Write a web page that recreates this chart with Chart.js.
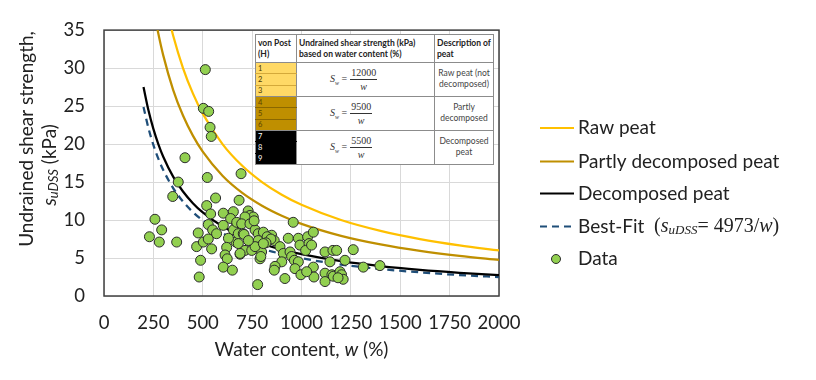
<!DOCTYPE html>
<html>
<head>
<meta charset="utf-8">
<script src="https://cdn.jsdelivr.net/npm/chart.js@4.4.1/dist/chart.umd.min.js"></script>
<style>
  html, body { margin:0; padding:0; background:#fff; }
  #wrap { position:relative; width:816px; height:380px; }
  #peatTable { position:absolute; left:255px; top:34px; width:238px; height:130px;
               border-collapse:collapse; table-layout:fixed; background:#fff;
               font-family:Lato, sans-serif; font-size:8px; color:#222; }
  #peatTable th, #peatTable td { border:1px solid #8c8c8c; padding:0; overflow:hidden; }
  #peatTable th { text-align:left; vertical-align:middle; font-weight:bold; line-height:11px; padding-left:2px; font-size:8.5px; }
  #peatTable tr.hd { height:28px; }
  #peatTable tr.sub { height:11.33px; }
  #peatTable td.vp { font-size:7.5px; line-height:9px; padding-left:2px; }
  #peatTable td.eq { font-family:"Liberation Serif", serif; font-size:10px; padding-left:33px; color:#333; }
  #peatTable td.ds { text-align:center; color:#444; font-size:8.5px; line-height:11px; }
  .frac { display:inline-flex; flex-direction:column; align-items:center; vertical-align:middle; margin-left:3px; }
  .frac span:first-child { border-bottom:1px solid #333; padding:0 1px 1px 1px; }
  .frac span:last-child { font-style:italic; padding-top:1px; }
</style>
</head>
<body>
<div id="wrap">
  <canvas id="cnv" width="816" height="380"></canvas>
  <table id="peatTable"></table>
</div>
<script>
"use strict";

// curves shown in the chart (water content w in %, strength in kPa)
const rawPeatW   = [325, 350, 400, 450, 500, 600, 700, 800, 900, 1000, 1200, 1400, 1600, 1800, 2000];
const rawPeatS   = [36.92, 34.29, 30.00, 26.67, 24.00, 20.00, 17.14, 15.00, 13.33, 12.00, 10.00, 8.57, 7.50, 6.67, 6.00];

const partlyW    = [260, 275, 300, 350, 400, 450, 500, 600, 700, 800, 900, 1000, 1200, 1400, 1600, 1800, 2000];
const partlyS    = [36.54, 34.55, 31.67, 27.14, 23.75, 21.11, 19.00, 15.83, 13.57, 11.88, 10.56, 9.50, 7.92, 6.79, 5.94, 5.28, 4.75];

const decompW    = [200, 225, 250, 275, 300, 350, 400, 450, 500, 600, 700, 800, 900, 1000, 1200, 1400, 1600, 1800, 2000];
const decompS    = [27.50, 24.44, 22.00, 20.00, 18.33, 15.71, 13.75, 12.22, 11.00, 9.17, 7.86, 6.88, 6.11, 5.50, 4.58, 3.93, 3.44, 3.06, 2.75];
const bestFitS   = [24.87, 22.10, 19.89, 18.08, 16.58, 14.21, 12.43, 11.05, 9.95, 8.29, 7.10, 6.22, 5.53, 4.97, 4.14, 3.55, 3.11, 2.76, 2.49];

// measured points
const sampleW = [513, 503, 530, 537, 543, 410, 523, 694, 376, 348, 565, 684, 520, 258, 292, 230, 280, 368,
                 540, 604, 655, 641, 528, 550, 570, 604, 477, 672, 655, 668, 630, 469, 503, 528, 545, 621,
                 613, 624, 604, 650, 489, 482, 689, 680, 705, 680, 714, 689, 709, 730, 739, 756, 714, 672,
                 697, 739, 765, 781, 807, 849, 862, 781, 790, 798, 790, 748, 958, 891, 908, 942, 950, 933,
                 984, 992, 1031, 1038, 1060, 1021, 1051, 900, 964, 984, 967, 866, 862, 916, 997, 1060, 1063,
                 1026, 1119, 1144, 1159, 1119, 1119, 1154, 778, 826, 845, 1178, 1262, 1220, 1313, 1397, 1161,
                 1195, 1203, 1211, 1185, 765, 731, 794, 760, 820, 807];
const sampleS = [29.8, 24.7, 24.3, 22.2, 21.0, 18.2, 15.6, 16.1, 15.0, 13.1, 12.9, 12.6, 11.9, 10.1, 8.7, 7.8, 7.1, 7.1,
                 10.8, 10.9, 11.1, 10.2, 9.4, 8.7, 8.2, 9.3, 8.3, 9.5, 8.7, 7.1, 7.6, 6.5, 7.1, 7.5, 6.2, 6.4,
                 5.4, 4.9, 3.8, 3.4, 4.7, 2.5, 5.5, 8.2, 8.2, 6.9, 6.0, 5.6, 8.1, 11.2, 10.6, 10.4, 10.4, 9.7,
                 9.5, 9.5, 8.7, 8.2, 8.4, 8.0, 7.3, 7.3, 6.5, 5.8, 4.9, 6.0, 9.7, 6.5, 5.6, 5.8, 5.2, 7.6,
                 7.6, 6.7, 7.8, 6.9, 8.4, 6.0, 6.7, 4.5, 4.7, 4.5, 3.6, 3.9, 3.4, 2.3, 2.8, 3.8, 2.5,
                 3.2, 5.8, 4.5, 6.0, 3.0, 1.9, 2.8, 1.5, 7.8, 7.5, 6.0, 6.1, 4.7, 3.8, 4.0, 2.6,
                 3.2, 2.8, 2.2, 2.4, 6.5, 7.3, 5.2, 9.9, 7.0, 6.9];

const xTicksStep = 250;
const yTicksStep = 5;

// inset table content
const vonPostGroups  = [[1, 2, 3], [4, 5, 6], [7, 8, 9]];
const groupColors    = ["#FFD966", "#BF8F00", "#000000"];
const groupNumColors = ["#4a3a00", "#5c4400", "#ffffff"];
const groupLines     = ["#d4a93a", "#8a6700", "#000000"];
const coefficients   = [12000, 9500, 5500];
const descriptions   = ["Raw peat (not<br>decomposed)", "Partly<br>decomposed", "Decomposed<br>peat"];


function pairs(xs, ys)
 {
   return xs.map((x, i) => ({ x: x, y: ys[i] }));
 }

function buildTable()
 {
   let html = '<colgroup><col style="width:41px"><col style="width:138px"><col style="width:59px"></colgroup>'
            + '<tr class="hd"><th>von Post<br>(H)</th><th>Undrained shear strength (kPa)<br>based on water content (%)</th><th>Description of<br>peat</th></tr>';
   vonPostGroups.forEach((g, gi) => {
      g.forEach((n, k) => {
         let bt = k == 0 ? '1px solid #8c8c8c' : '1px solid ' + groupLines[gi];
         let bb = k == 2 ? '1px solid #8c8c8c' : '1px solid ' + groupLines[gi];
         html += '<tr class="sub"><td class="vp" style="background:' + groupColors[gi] + ';color:' + groupNumColors[gi]
               + ';border-top:' + bt + ';border-bottom:' + bb + '">' + n + '</td>';
         if (k == 0)
          html += '<td class="eq" rowspan="3"><i>S</i><sub style="font-size:6px;font-style:italic">w</sub> ='
                + '<span class="frac"><span>' + coefficients[gi] + '</span><span>w</span></span></td>'
                + '<td class="ds" rowspan="3">' + descriptions[gi] + '</td>';
         html += '</tr>';
      });
   });
   document.getElementById('peatTable').innerHTML = html;
 }

// draws a row of text pieces with different fonts, centred or left aligned
function drawRich(ctx, parts, x, y, align)
 {
   let total = 0;
   parts.forEach(p => { ctx.font = p.font; p.w = ctx.measureText(p.text).width; total += p.w; });
   let cx = align == 'center' ? x - total / 2 : x;
   ctx.textAlign = 'left';
   ctx.textBaseline = 'middle';
   parts.forEach(p => { ctx.font = p.font; ctx.fillText(p.text, cx, y + (p.dy || 0)); cx += p.w; });
 }

const TXT = '#222';
const SANS = '19px Lato';
const SANS_I = 'italic 19px Lato';

// border around the plot area
const frame = {
  id: 'frame',
  beforeDatasetsDraw(chart) {
     const a = chart.chartArea, ctx = chart.ctx;
     ctx.save();
     ctx.strokeStyle = '#404040';
     ctx.lineWidth = 1.5;
     ctx.strokeRect(a.left, a.top, a.right - a.left, a.bottom - a.top);
     ctx.restore();
  }
};

// axis titles and legend (with italics and subscripts)
const annotate = {
  id: 'annotate',
  afterDraw(chart) {
     const ctx = chart.ctx, a = chart.chartArea;
     ctx.save();
     ctx.fillStyle = TXT;

     drawRich(ctx, [{ text: 'Water content, ', font: SANS }, { text: 'w', font: SANS_I }, { text: ' (%)', font: SANS }],
              (a.left + a.right) / 2, 350, 'center');

     ctx.save();
     ctx.translate(27, 139);
     ctx.rotate(-Math.PI / 2);
     drawRich(ctx, [{ text: 'Undrained shear strength,', font: SANS }], 0, 0, 'center');
     ctx.restore();
     ctx.save();
     ctx.translate(50, 165);
     ctx.rotate(-Math.PI / 2);
     drawRich(ctx, [{ text: 's', font: SANS_I }, { text: 'uDSS', font: 'italic 13px Lato', dy: 4 }, { text: ' (kPa)', font: SANS }], 0, 0, 'center');
     ctx.restore();

     // legend
     const ds = chart.data.datasets;
     const rowY = [128, 161.5, 193.5, 226.5, 259];
     ds.forEach((d, i) => {
        let y = rowY[i];
        ctx.fillStyle = TXT;
        if (d.showLine)
         {
           ctx.save();
           ctx.strokeStyle = d.borderColor;
           ctx.lineWidth = 2;
           ctx.setLineDash(d.borderDash || []);
           ctx.beginPath();
           ctx.moveTo(540, y);
           ctx.lineTo(574, y);
           ctx.stroke();
           ctx.restore();
         }
        else
         {
           ctx.save();
           ctx.fillStyle = d.backgroundColor;
           ctx.strokeStyle = d.borderColor;
           ctx.lineWidth = 1;
           ctx.beginPath();
           ctx.arc(556, y, 4.5, 0, Math.PI * 2);
           ctx.fill();
           ctx.stroke();
           ctx.restore();
         }
        if (d.legendParts)
         drawRich(ctx, d.legendParts, 578, y, 'left');
        else
         drawRich(ctx, [{ text: d.label, font: SANS }], 578, y, 'left');
     });
     ctx.restore();
  }
};

buildTable();

const SERIF = '20px "Liberation Serif"';
const SERIF_I = 'italic 20px "Liberation Serif"';

new Chart(document.getElementById('cnv'), {
   type: 'scatter',
   data: {
      datasets: [
         { label: 'Raw peat', data: pairs(rawPeatW, rawPeatS), showLine: true, borderColor: '#FFC000', borderWidth: 2.25,
           pointRadius: 0, cubicInterpolationMode: 'monotone', order: 1 },
         { label: 'Partly decomposed peat', data: pairs(partlyW, partlyS), showLine: true, borderColor: '#BF8F00', borderWidth: 2.25,
           pointRadius: 0, cubicInterpolationMode: 'monotone', order: 1 },
         { label: 'Decomposed peat', data: pairs(decompW, decompS), showLine: true, borderColor: '#000000', borderWidth: 2.25,
           pointRadius: 0, cubicInterpolationMode: 'monotone', order: 1 },
         { label: 'Best-Fit (sDSS = 4973/w)', data: pairs(decompW, bestFitS), showLine: true, borderColor: '#1F4E79', borderWidth: 2.25,
           borderDash: [7, 5], pointRadius: 0, cubicInterpolationMode: 'monotone', order: 1,
           legendParts: [ { text: 'Best-Fit  ', font: SANS }, { text: '(', font: SERIF }, { text: 's', font: SERIF_I },
                          { text: 'uDSS', font: 'italic 13px "Liberation Serif"', dy: 4 }, { text: '= 4973/', font: SERIF },
                          { text: 'w', font: SERIF_I }, { text: ')', font: SERIF } ] },
         { label: 'Data', data: pairs(sampleW, sampleS), backgroundColor: '#92D050', borderColor: '#2b2b2b', borderWidth: 1,
           pointRadius: 5, order: 0 }
      ]
   },
   options: {
      responsive: false,
      animation: false,
      events: [],
      layout: { padding: { top: 29, right: 317, left: 0, bottom: 0 } },
      plugins: { legend: { display: false }, tooltip: { enabled: false } },
      scales: {
         x: { type: 'linear', min: 0, max: 2000,
              ticks: { stepSize: xTicksStep, padding: 16, color: TXT, font: { family: 'Lato', size: 18.5 },
                       maxRotation: 0, minRotation: 0, autoSkip: false,
                       callback: function(v) { return String(v); } },
              grid: { color: '#d9d9d9', drawTicks: false },
              border: { display: false },
              afterFit: function(s) { s.height = 84; } },
         y: { min: 0, max: 35,
              ticks: { stepSize: yTicksStep, padding: 19, color: TXT, font: { family: 'Lato', size: 18.5 } },
              grid: { color: '#d9d9d9', drawTicks: false },
              border: { display: false },
              afterFit: function(s) { s.width = 104; } }
      }
   },
   plugins: [frame, annotate]
});
</script>
</body>
</html>
